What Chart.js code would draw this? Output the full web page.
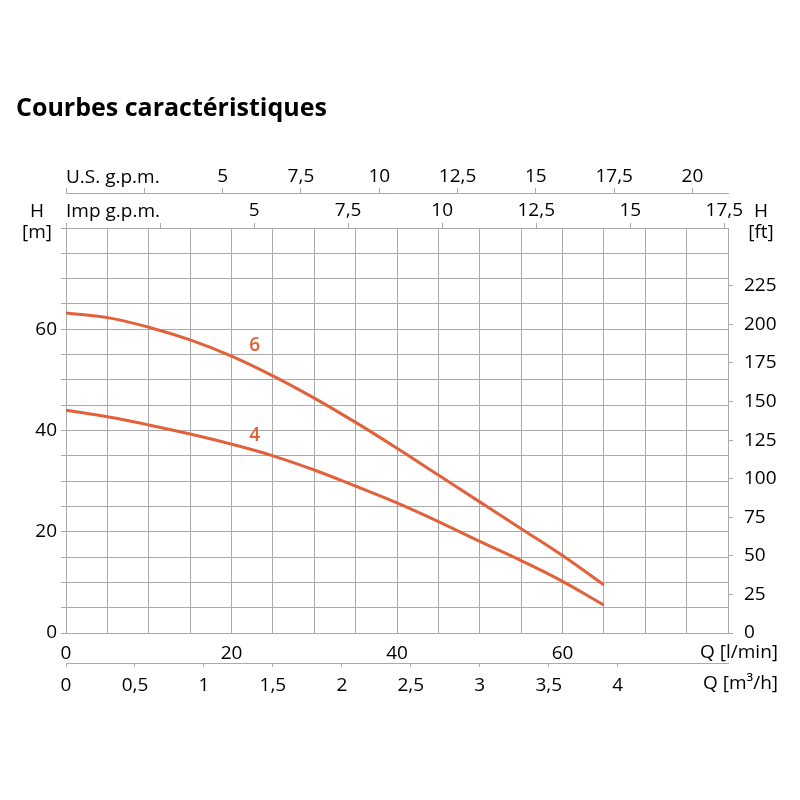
<!DOCTYPE html>
<html>
<head>
<meta charset="utf-8">
<script src="https://cdn.jsdelivr.net/npm/chart.js@4/dist/chart.umd.min.js"></script>
<style>
html, body { margin: 0; padding: 0; background: #fff; }
</style>
</head>
<body>
<canvas id="curves" width="800" height="800"></canvas>
<script>
// pump curves: flow in l/min, head in m
var flow  = [0, 5, 10, 15, 20, 25, 30, 35, 40, 45, 50, 55, 60, 65];
var head6 = [63.2, 62.3, 60.4, 57.9, 54.7, 50.8, 46.4, 41.6, 36.5, 31.2, 25.9, 20.6, 15.3, 9.5];
var head4 = [44.0, 42.7, 41.1, 39.3, 37.3, 35.0, 32.2, 29.0, 25.7, 22.0, 18.1, 14.3, 10.2, 5.5];
var curveNames = ["6", "4"];
var curveLabelAt = [[22.8, 56.7], [22.8, 38.9]];   // l/min, m

// tick values of the secondary axes
var m3hTicks = [0, 0.5, 1, 1.5, 2, 2.5, 3, 3.5, 4];
var usGpmTicks = [0, 2.5, 5, 7.5, 10, 12.5, 15, 17.5, 20];
var impGpmTicks = [0, 2.5, 5, 7.5, 10, 12.5, 15, 17.5];
var ftTicks = [0, 25, 50, 75, 100, 125, 150, 175, 200, 225];

// unit conversions for the extra axes
var LPM_PER_M3H = 1000 / 60;
var LPM_PER_USGPM = 3.78541;
var LPM_PER_IMPGPM = 4.54609;
var FT_PER_M = 3.28084;
var qMax = 80, hMax = 80;

var FONT = "'Open Sans', 'DejaVu Sans', sans-serif";
var gridCol = "#aaaaaa";
var curveCol = "#e2613a";
var tickFont = { family: FONT, size: 19 };

function comma(v) {
  return String(Math.round(v * 10) / 10).replace(".", ",");
}
function pts(ys) {
  return flow.map(function (q, i) { return { x: q, y: ys[i] }; });
}
function useTicks(list) {
  return function (s) { s.ticks = list.map(function (v) { return { value: v }; }); };
}

var extraText = {
  id: "extraText",
  afterDraw: function (chart) {
    var c = chart.ctx, a = chart.chartArea, sc = chart.scales;
    c.save();
    c.fillStyle = "#000";
    c.font = "19px " + FONT;
    c.textBaseline = "middle";
    c.textAlign = "left";
    c.fillText("U.S. g.p.m.", a.left, sc.x4.bottom - 15);
    c.fillText("Imp g.p.m.", a.left, sc.x3.bottom - 16);
    c.textAlign = "center";
    c.fillText("H", a.left - 29, sc.x3.bottom - 16);
    c.fillText("[m]", a.left - 29, a.top + 5);
    c.fillText("H", a.right + 33, sc.x3.bottom - 16);
    c.fillText("[ft]", a.right + 33, a.top + 5);
    c.textAlign = "right";
    c.fillText("Q [l/min]", 778, a.bottom + 20);
    c.fillText("Q [m\u00b3/h]", 778, a.bottom + 51);
    // curve numbers
    c.fillStyle = curveCol;
    c.font = "600 19px " + FONT;
    c.textAlign = "center";
    curveNames.forEach(function (n, i) {
      c.fillText(n, sc.x.getPixelForValue(curveLabelAt[i][0]), sc.y.getPixelForValue(curveLabelAt[i][1]));
    });
    c.restore();
  }
};

new Chart(document.getElementById("curves"), {
  type: "scatter",
  data: {
    datasets: [
      { label: "6", data: pts(head6), showLine: true, borderColor: curveCol, borderWidth: 3,
        pointRadius: 0, tension: 0.4, xAxisID: "x", yAxisID: "y" },
      { label: "4", data: pts(head4), showLine: true, borderColor: curveCol, borderWidth: 3,
        pointRadius: 0, tension: 0.4, xAxisID: "x", yAxisID: "y" }
    ]
  },
  options: {
    responsive: false,
    animation: false,
    layout: { padding: { left: 16, right: 0, top: 0, bottom: 0 } },
    plugins: {
      legend: { display: false },
      tooltip: { enabled: false },
      title: {
        display: true,
        text: "Courbes caractéristiques",
        align: "start",
        color: "#000",
        font: { family: FONT, size: 25, weight: "bold", lineHeight: 1.2 },
        padding: { top: 94, bottom: 26 }
      }
    },
    scales: {
      x: {
        type: "linear", position: "bottom", weight: 0, min: 0, max: qMax,
        ticks: { stepSize: 5, padding: 9, color: "#000", font: tickFont, maxRotation: 0, autoSkip: false,
          callback: function (v) { return (v % 20 === 0 && v <= 60) ? v : ""; } },
        grid: { color: gridCol, drawTicks: false },
        border: { color: gridCol },
        afterFit: function (s) { s.height = 30; }
      },
      x2: {
        type: "linear", position: "bottom", weight: 1, min: 0, max: qMax / LPM_PER_M3H,
        afterBuildTicks: useTicks(m3hTicks),
        ticks: { padding: 7, color: "#000", font: tickFont, maxRotation: 0, autoSkip: false,
          callback: function (v) { return comma(v); } },
        grid: { drawOnChartArea: false, tickLength: 4, color: gridCol },
        border: { color: gridCol },
        afterFit: function (s) { s.height = 137; }
      },
      x3: {
        type: "linear", position: "top", weight: 1, min: 0, max: qMax / LPM_PER_IMPGPM,
        afterBuildTicks: useTicks(impGpmTicks),
        ticks: { padding: 1, color: "#000", font: tickFont, maxRotation: 0, autoSkip: false,
          callback: function (v) { return v >= 5 ? comma(v) : ""; } },
        grid: { drawOnChartArea: false, tickLength: 5, color: gridCol },
        border: { color: gridCol },
        afterFit: function (s) { s.height = 35; }
      },
      x4: {
        type: "linear", position: "top", weight: 2, min: 0, max: qMax / LPM_PER_USGPM,
        afterBuildTicks: useTicks(usGpmTicks),
        ticks: { padding: 0, color: "#000", font: tickFont, maxRotation: 0, autoSkip: false,
          callback: function (v) { return v >= 5 ? comma(v) : ""; } },
        grid: { drawOnChartArea: false, tickLength: 5, color: gridCol },
        border: { color: gridCol },
        afterFit: function (s) { s.height = 43; }
      },
      y: {
        type: "linear", position: "left", min: 0, max: hMax,
        ticks: { stepSize: 5, padding: 4, color: "#000", font: tickFont, autoSkip: false,
          callback: function (v) { return (v % 20 === 0 && v <= 60) ? v : ""; } },
        grid: { color: gridCol, tickLength: 5 },
        border: { color: gridCol },
        afterFit: function (s) { s.width = 50; }
      },
      y2: {
        type: "linear", position: "right", min: 0, max: hMax * FT_PER_M,
        afterBuildTicks: useTicks(ftTicks),
        ticks: { padding: 11, color: "#000", font: tickFont, autoSkip: false },
        grid: { drawOnChartArea: false, tickLength: 5, color: gridCol },
        border: { color: gridCol },
        afterFit: function (s) { s.width = 72; }
      }
    }
  },
  plugins: [extraText]
});
</script>
</body>
</html>
